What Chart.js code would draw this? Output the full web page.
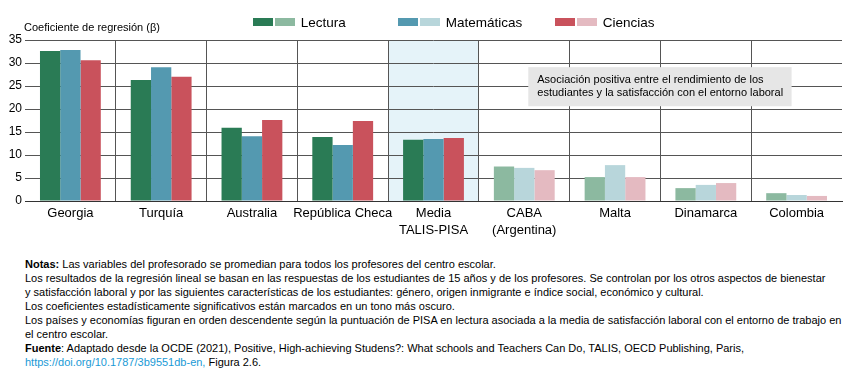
<!DOCTYPE html>
<html>
<head>
<meta charset="utf-8">
<script src="https://cdn.jsdelivr.net/npm/chart.js@4"></script>
<style>
  html,body{margin:0;padding:0;background:#fff;}
  body{width:855px;height:382px;position:relative;overflow:hidden;font-family:"Liberation Sans",Arial,sans-serif;}
  #wrap{position:absolute;left:0;top:0;width:855px;height:245px;}
  .ytitle{position:absolute;left:24px;top:21px;font-size:11px;color:#000;white-space:nowrap;}
  .legend{position:absolute;top:15px;font-size:13.5px;color:#000;white-space:nowrap;}
  .legend span.sw{display:inline-block;width:20px;height:8px;margin-right:2px;vertical-align:1px;}
  .notes{position:absolute;left:25px;top:257px;font-size:11px;line-height:14px;color:#000;white-space:nowrap;}
  .notes a{color:#1a9ad6;text-decoration:none;}
</style>
</head>
<body>
<div id="wrap"><canvas id="c" width="855" height="245"></canvas></div>
<div class="ytitle">Coeficiente de regresión (β)</div>
<div class="legend" style="left:253px"><span class="sw" style="background:#2a7b55"></span><span class="sw" style="background:#8cb9a0"></span> Lectura</div>
<div class="legend" style="left:398px"><span class="sw" style="background:#5499b0"></span><span class="sw" style="background:#b8d6db"></span> Matemáticas</div>
<div class="legend" style="left:555px"><span class="sw" style="background:#c9525c"></span><span class="sw" style="background:#e4bac1"></span> Ciencias</div>
<div class="notes">
<b>Notas:</b> Las variables del profesorado se promedian para todos los profesores del centro escolar.<br>
Los resultados de la regresión lineal se basan en las respuestas de los estudiantes de 15 años y de los profesores. Se controlan por los otros aspectos de bienestar<br>
y satisfacción laboral y por las siguientes características de los estudiantes: género, origen inmigrante e índice social, económico y cultural.<br>
Los coeficientes estadísticamente significativos están marcados en un tono más oscuro.<br>
Los países y economías figuran en orden descendente según la puntuación de PISA en lectura asociada a la media de satisfacción laboral con el entorno de trabajo en<br>
el centro escolar.<br>
<b>Fuente</b>: Adaptado desde la OCDE (2021), Positive, High-achieving Studens?: What schools and Teachers Can Do, TALIS, OECD Publishing, Paris,<br>
<a href="#">https://doi.org/10.1787/3b9551db-en,</a> Figura 2.6.
</div>
<script>
const categories = ["Georgia", "Turquía", "Australia", "República Checa", ["Media", "TALIS-PISA"], ["CABA", "(Argentina)"], "Malta", "Dinamarca", "Colombia"];
const lectura     = [32.6, 26.3, 15.9, 13.9, 13.3, 7.5, 5.2, 2.8, 1.7];
const matematicas = [32.8, 29.1, 14.1, 12.2, 13.5, 7.2, 7.8, 3.5, 1.3];
const ciencias    = [30.6, 27.0, 17.6, 17.4, 13.7, 6.7, 5.2, 3.9, 1.1];
const significativo = [true, true, true, true, true, false, false, false, false];
const yTicks = [0, 5, 10, 15, 20, 25, 30, 35];
const highlightIndex = 4;
const noteText = ["Asociación positiva entre el rendimiento de los", "estudiantes y la satisfacción con el entorno laboral"];

const colors = {
  lectura: ["#2a7b55", "#8cb9a0"],
  matematicas: ["#5499b0", "#b8d6db"],
  ciencias: ["#c9525c", "#e4bac1"]
};
const pick = (pair) => significativo.map(s => s ? pair[0] : pair[1]);

const bgPlugin = {
  id: 'bgPlugin',
  beforeDraw(chart) {
    const {ctx, chartArea, scales:{x}} = chart;
    const half = (x.getPixelForValue(1) - x.getPixelForValue(0)) / 2;
    const cx = x.getPixelForValue(highlightIndex);
    ctx.save();
    ctx.fillStyle = '#e5f3f9';
    ctx.fillRect(cx - half, chartArea.top, half * 2, chartArea.bottom - chartArea.top);
    ctx.restore();
  },
  afterDatasetsDraw(chart) {
    const {ctx, scales:{x, y}} = chart;
    const left = x.getPixelForValue(5) + 4;
    const right = x.getPixelForValue(8) - 5;
    const top = y.getPixelForValue(29.1);
    const bottom = y.getPixelForValue(20.6);
    ctx.save();
    ctx.fillStyle = '#e6e6e6';
    ctx.fillRect(left, top, right - left, bottom - top);
    ctx.fillStyle = '#000';
    ctx.font = '11px "Liberation Sans", Arial, sans-serif';
    ctx.textBaseline = 'middle';
    ctx.fillText(noteText[0], left + 9, top + 13);
    ctx.fillText(noteText[1], left + 9, top + 26);
    ctx.restore();
  }
};

new Chart(document.getElementById('c'), {
  type: 'bar',
  data: {
    labels: categories,
    datasets: [
      {label: 'Lectura', data: lectura, backgroundColor: pick(colors.lectura)},
      {label: 'Matemáticas', data: matematicas, backgroundColor: pick(colors.matematicas)},
      {label: 'Ciencias', data: ciencias, backgroundColor: pick(colors.ciencias)}
    ]
  },
  options: {
    responsive: false,
    animation: false,
    devicePixelRatio: 1,
    layout: {padding: {top: 40, right: 13, left: 0, bottom: 0}},
    datasets: {bar: {categoryPercentage: 0.67, barPercentage: 1.0, borderWidth: 0}},
    plugins: {legend: {display: false}, tooltip: {enabled: false}},
    scales: {
      x: {
        grid: {
          offset: true,
          drawTicks: false,
          color: (c) => (c.index > 0 && c.index < categories.length) ? '#555555' : 'rgba(0,0,0,0)',
          lineWidth: 1
        },
        border: {display: true, color: '#333333', width: 1},
        ticks: {
          color: '#000',
          font: {family: '"Liberation Sans", Arial, sans-serif', size: 13, lineHeight: 1.3},
          padding: 4,
          maxRotation: 0,
          autoSkip: false
        },
        afterFit: (s) => { s.height = 44; }
      },
      y: {
        min: 0, max: 35,
        afterBuildTicks: (s) => { s.ticks = yTicks.map(v => ({value: v})); },
        grid: {color: '#555555', drawTicks: false, lineWidth: 1},
        border: {display: false},
        ticks: {
          color: '#000',
          font: {family: '"Liberation Sans", Arial, sans-serif', size: 12},
          padding: 3
        },
        afterFit: (s) => { s.width = 25; }
      }
    }
  },
  plugins: [bgPlugin]
});
</script>
</body>
</html>
